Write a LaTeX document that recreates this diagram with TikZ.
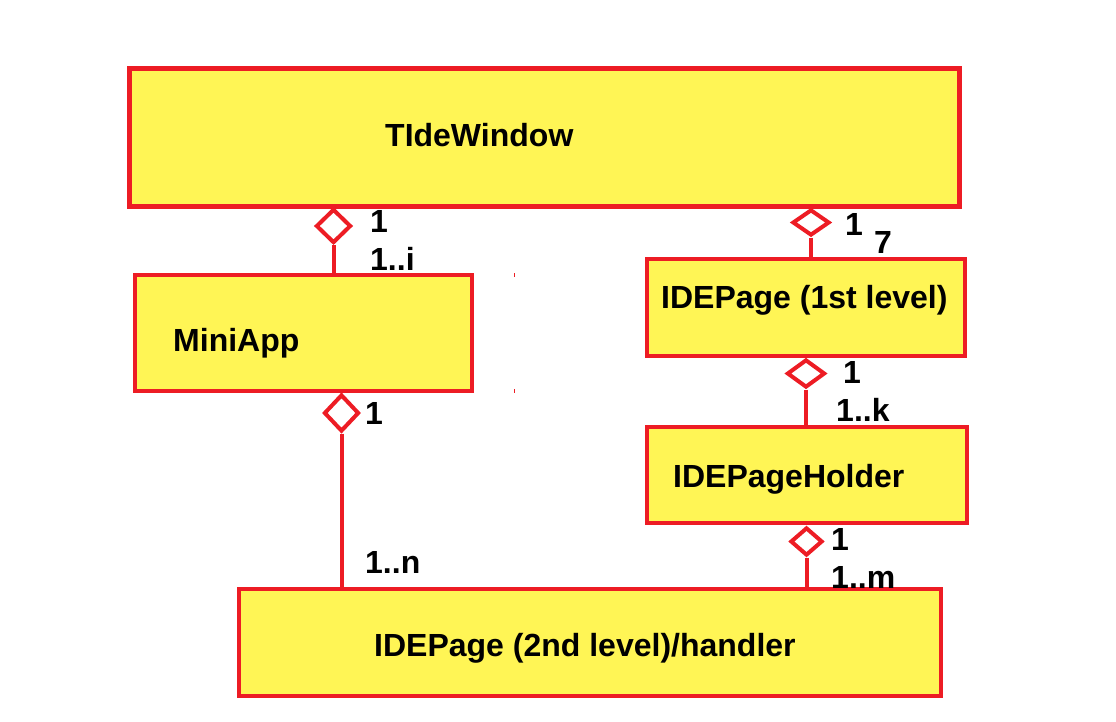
\documentclass[tikz,border=0pt]{standalone}
\usepackage{fontspec}
\setmainfont{Liberation Sans}
\usetikzlibrary{shapes.geometric}
\definecolor{boxred}{RGB}{237,28,36}
\definecolor{boxyellow}{RGB}{255,245,85}
\tikzset{
  umlbox/.style={draw=boxred, fill=boxyellow, line width=4.5pt, rectangle, inner sep=0pt},
  aggr/.style={draw=boxred, fill=white, line width=4pt, diamond, inner sep=0pt},
  conn/.style={draw=boxred, line width=4pt},
  boxtext/.style={anchor=base west, inner sep=0pt, font=\fontsize{32}{36}\selectfont\bfseries},
  mult/.style={anchor=base west, inner sep=0pt, font=\fontsize{32}{36}\selectfont\bfseries},
}
\begin{document}
\begin{tikzpicture}[x=1pt,y=-1pt]
\useasboundingbox[fill=white] (0,0) rectangle (1116,722);
% boxes
\node[umlbox, minimum width=830pt, minimum height=138pt] (tide) at (544.5,137.5) {};
\node[umlbox, minimum width=337pt, minimum height=116pt] (mini) at (303.5,333) {};
\node[umlbox, minimum width=318pt, minimum height=97pt] (page1) at (806,307.5) {};
\node[umlbox, minimum width=320pt, minimum height=96pt] (holder) at (807,475) {};
\node[umlbox, minimum width=702pt, minimum height=107pt] (page2) at (590,642.5) {};
% diamonds
\node[aggr, minimum width=35pt, minimum height=34pt] (d1) at (333.5,226) {};
\node[aggr, minimum width=37pt, minimum height=26pt] (d2) at (811,222.5) {};
\node[aggr, minimum width=35pt, minimum height=37pt] (d3) at (341.5,413) {};
\node[aggr, minimum width=38pt, minimum height=28pt] (d4) at (806,373.5) {};
\node[aggr, minimum width=32pt, minimum height=28pt] (d5) at (806.5,541.5) {};
% connectors
\draw[conn] (d1.south) -- (d1.south |- mini.north);
\draw[conn] (d2.south) -- (d2.south |- page1.north);
\draw[conn] (d3.south) -- (d3.south |- page2.north);
\draw[conn] (d4.south) -- (d4.south |- holder.north);
\draw[conn] (d5.south) -- (d5.south |- page2.north);
% box texts
\node[boxtext] (t1) at (385,147) {TIdeWindow};
\node[boxtext] (t2) at (173,351) {MiniApp};
\node[boxtext] (t3) at (661,308) {IDEPage (1st level)};
\node[boxtext] (t4) at (673,487) {IDEPageHolder};
\node[boxtext] (t5) at (374,656) {IDEPage (2nd level)/handler};
% multiplicities
\node[mult] (m1a) at (370,233) {1};
\node[mult] (m1b) at (370,270) {1..i};
\node[mult] (m2a) at (845,235) {1};
\node[mult] (m2b) at (874,253) {7};
\node[mult] (m3a) at (365,424) {1};
\node[mult] (m3b) at (365,573) {1..n};
\node[mult] (m4a) at (843,383) {1};
\node[mult] (m4b) at (836,421) {1..k};
\node[mult] (m5a) at (831,550) {1};
\node[mult] (m5b) at (831,588) {1..m};
% tiny stray ticks
\draw[boxred, line width=1pt] (514.5,273) -- (514.5,277);
\draw[boxred, line width=1pt] (514.5,389) -- (514.5,393);
\end{tikzpicture}
\end{document}
